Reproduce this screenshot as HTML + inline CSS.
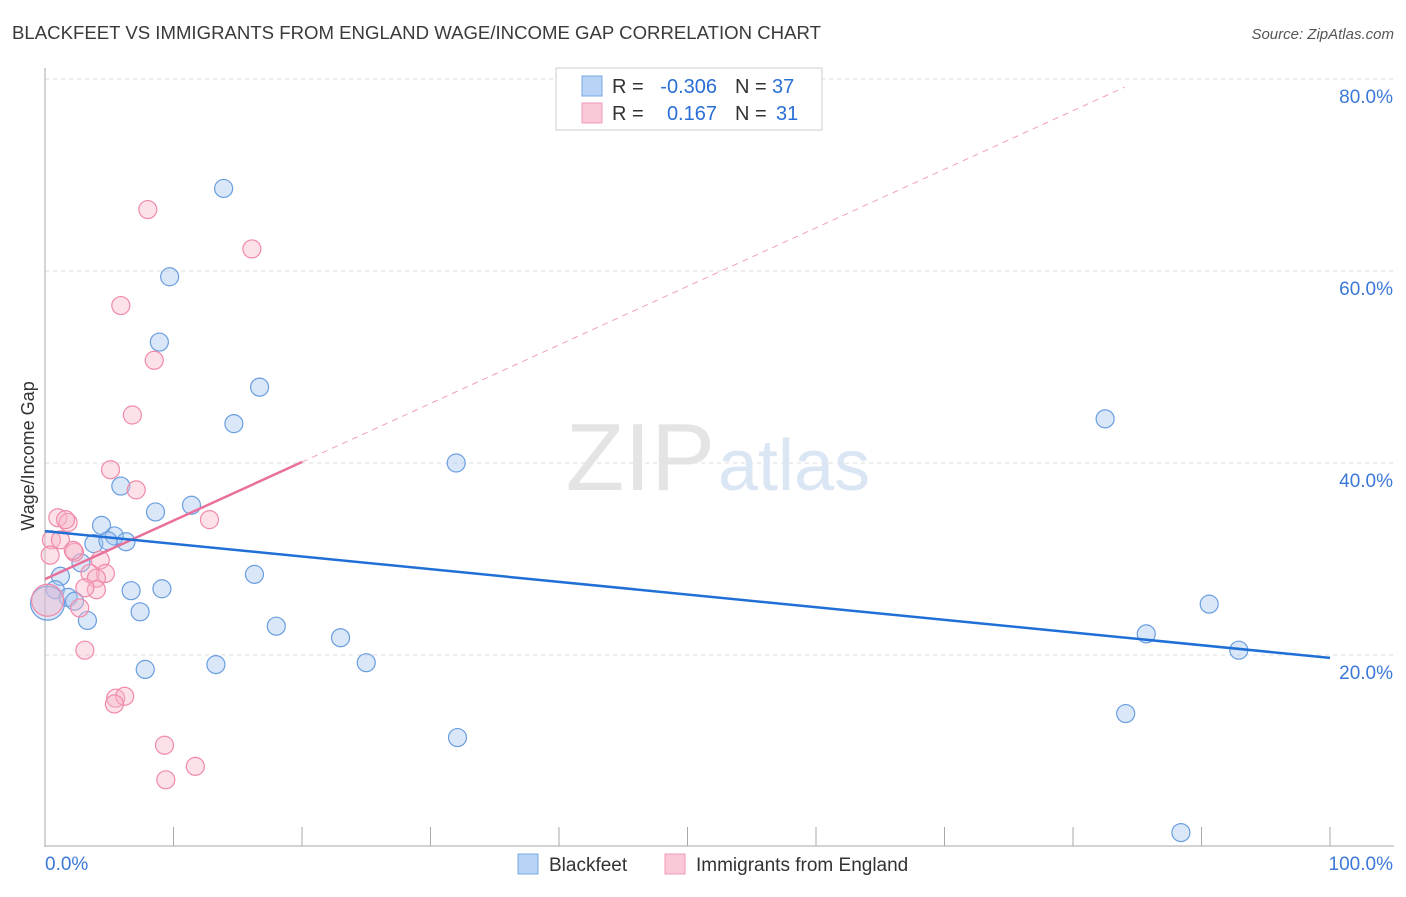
<!DOCTYPE html>
<html><head><meta charset="utf-8"><style>
body{margin:0;background:#fff;font-family:"Liberation Sans",sans-serif;}
svg text{font-family:"Liberation Sans",sans-serif;}
</style></head><body>
<svg id="chart" width="1406" height="892">
<text x="12" y="39" font-size="18.6" fill="#3a3a3a">BLACKFEET VS IMMIGRANTS FROM ENGLAND WAGE/INCOME GAP CORRELATION CHART</text>
<text x="1394" y="39" font-size="15" fill="#555" text-anchor="end" font-style="italic">Source: ZipAtlas.com</text>
<g id="grid"></g>
<text x="715" y="490" font-size="96" fill="#e4e4e4" text-anchor="end" font-family="Liberation Serif">ZIP</text>
<text x="718" y="490" font-size="72" fill="#dbe6f5">atlas</text>
<g id="marks"></g>
<text x="34" y="456" font-size="18" fill="#333" text-anchor="middle" transform="rotate(-90 34 456)">Wage/Income Gap</text>
<g>
<rect x="556" y="68" width="266" height="62" fill="#fff" stroke="#ccc"/>
<rect x="582" y="76" width="20" height="20" fill="#b8d3f5" stroke="#7aa8e6"/>
<rect x="582" y="103" width="20" height="20" fill="#fbc8d8" stroke="#f09ab4"/>
<text x="612" y="93" font-size="20" fill="#333">R =</text>
<text x="717" y="93" font-size="20" fill="#2a6fd6" text-anchor="end">-0.306</text>
<text x="735" y="93" font-size="20" fill="#333">N =</text>
<text x="772" y="93" font-size="20" fill="#2a6fd6">37</text>
<text x="612" y="120" font-size="20" fill="#333">R =</text>
<text x="717" y="120" font-size="20" fill="#2a6fd6" text-anchor="end">0.167</text>
<text x="735" y="120" font-size="20" fill="#333">N =</text>
<text x="776" y="120" font-size="20" fill="#2a6fd6">31</text>
</g>
<g>
<rect x="518" y="854" width="20" height="20" fill="#b8d3f5" stroke="#7aa8e6"/>
<text x="549" y="871" font-size="19" fill="#333">Blackfeet</text>
<rect x="665" y="854" width="20" height="20" fill="#fbc8d8" stroke="#f09ab4"/>
<text x="696" y="871" font-size="19" fill="#333">Immigrants from England</text>
</g>
</svg>
<script>
const yTicks=[20,40,60,80];
const yTickLabels=["20.0%","40.0%","60.0%","80.0%"];
const xEndLabels=["0.0%","100.0%"];
const blueX=[13.9,9.7,8.9,16.7,14.7,32.0,82.5,5.9,11.4,8.6,4.4,5.4,3.8,6.3,4.9,1.2,2.8,16.3,6.7,9.1,0.8,1.8,2.3,0.2,7.4,3.3,18.0,23.0,13.3,7.8,25.0,90.6,85.7,92.9,84.1,32.1,88.4];
const blueY=[68.6,59.4,52.6,47.9,44.1,40.0,44.6,37.6,35.6,34.9,33.5,32.4,31.6,31.8,31.9,28.2,29.6,28.4,26.7,26.9,26.8,26.0,25.6,25.4,24.5,23.6,23.0,21.8,19.0,18.5,19.2,25.3,22.2,20.5,13.9,11.4,1.5];
const pinkX=[8.0,16.1,5.9,8.5,6.8,5.1,7.1,1.0,1.8,12.8,0.5,1.2,0.4,2.3,4.3,4.7,3.5,4.0,4.0,3.1,2.7,0.2,3.1,5.5,6.2,5.4,9.3,11.7,9.4,1.6,2.2];
const pinkY=[66.4,62.3,56.4,50.7,45.0,39.3,37.2,34.3,33.8,34.1,32.0,32.0,30.4,30.7,29.9,28.5,28.5,28.0,26.8,27.0,24.9,25.7,20.5,15.5,15.7,14.9,10.6,8.4,7.0,34.1,30.9];
const blueTrend=[32.9,19.7];
const pinkTrend=[27.9,40.1];
const NS="http://www.w3.org/2000/svg";
const X=v=>45+v*12.85, Y=v=>847-v*9.6;
function mk(p,t,a){const e=document.createElementNS(NS,t);for(const k in a)e.setAttribute(k,a[k]);p.appendChild(e);return e;}
const g=document.getElementById('grid'), m=document.getElementById('marks');
yTicks.forEach((t,i)=>{
 const l=mk(g,'line',{x1:45,x2:1394,y1:Y(t),y2:Y(t),stroke:'#ddd','stroke-dasharray':'4,4'});
 
 
 const tx=mk(g,'text',{x:1393,y:Y(t)+24,'font-size':19,fill:'#3b78d8','text-anchor':'end'});
 tx.textContent=yTickLabels[i];
 
 
});
const ax=mk(g,'line',{x1:45,x2:45,y1:68,y2:847,stroke:'#aaa'});


const bx=mk(g,'line',{x1:45,x2:1394,y1:846,y2:846,stroke:'#aaa'});


for(let i=0;i<=10;i++){
 const tk=mk(g,'line',{x1:X(i*10),x2:X(i*10),y1:827,y2:846,stroke:'#aaa'});
 
 
}
[[0,'start',45],[100,'end',1393]].forEach(([v,a,x],i)=>{
 const t=mk(g,'text',{x:x,y:870,'font-size':19,fill:'#3b78d8','text-anchor':a});
 t.textContent=xEndLabels[i];
 
 
});
blueX.forEach((x,i)=>{
 const c=mk(m,'circle',{cx:X(x),cy:Y(blueY[i]),r:i===23?17:9,fill:'rgba(160,196,240,0.4)',stroke:'#6a9ee0','stroke-width':1.2});
 
 
});
pinkX.forEach((x,i)=>{
 const c=mk(m,'circle',{cx:X(x),cy:Y(pinkY[i]),r:i===21?16:9,fill:'rgba(248,180,200,0.4)',stroke:'#f08aa8','stroke-width':1.2});
 
 
});
const slope=(pinkTrend[1]-pinkTrend[0])/20;
const dl=mk(m,'line',{x1:X(20),y1:Y(pinkTrend[1]),x2:X(84),y2:Y(pinkTrend[0]+slope*84),stroke:'#f0a0b8','stroke-width':1,'stroke-dasharray':'6,5'});


const pl=mk(m,'line',{x1:X(0),y1:Y(pinkTrend[0]),x2:X(20),y2:Y(pinkTrend[1]),stroke:'#e8709a','stroke-width':2.5});


const bl=mk(m,'line',{x1:X(0),y1:Y(blueTrend[0]),x2:X(100),y2:Y(blueTrend[1]),stroke:'#1f6fd6','stroke-width':2.5});


</script>
</body></html>
